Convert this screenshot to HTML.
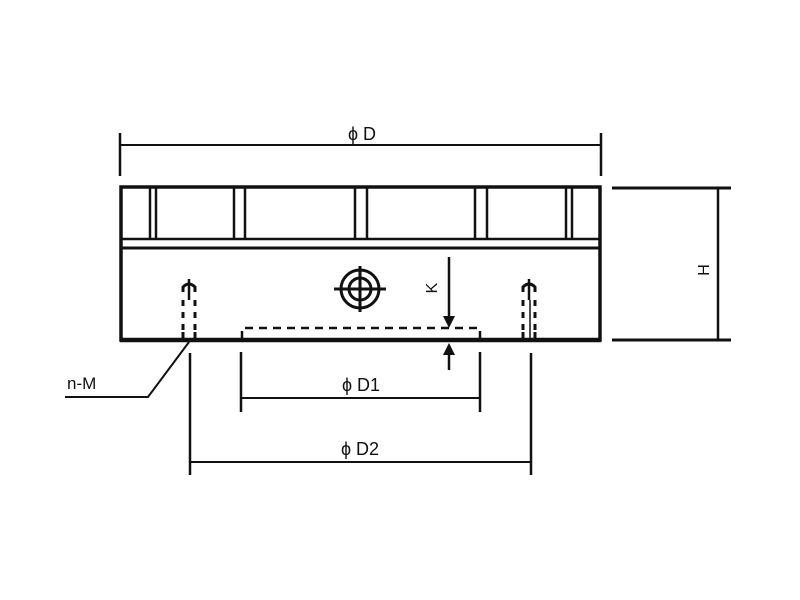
<!DOCTYPE html>
<html><head><meta charset="utf-8"><style>
html,body{margin:0;padding:0;background:#fff;}
svg{display:block;}
text{font-family:"Liberation Sans",sans-serif;fill:#111;}
</style></head><body>
<svg width="800" height="600" viewBox="0 0 800 600" xmlns="http://www.w3.org/2000/svg">
<g stroke="#111" fill="none" stroke-linecap="butt">
<line x1="120" y1="133" x2="120" y2="176" stroke-width="2.5"/>
<line x1="601" y1="133" x2="601" y2="176" stroke-width="2.5"/>
<line x1="120" y1="145" x2="601" y2="145" stroke-width="2"/>
<rect x="121" y="187" width="479" height="153" stroke-width="3.5"/>
<line x1="121" y1="239" x2="600" y2="239" stroke-width="2.5"/>
<line x1="121" y1="248" x2="600" y2="248" stroke-width="3"/>
<g stroke-width="2.5">
<line x1="150" y1="188" x2="150" y2="239"/><line x1="156" y1="188" x2="156" y2="239"/>
<line x1="234" y1="188" x2="234" y2="239"/><line x1="245" y1="188" x2="245" y2="239"/>
<line x1="355" y1="188" x2="355" y2="239"/><line x1="367" y1="188" x2="367" y2="239"/>
<line x1="475" y1="188" x2="475" y2="239"/><line x1="487" y1="188" x2="487" y2="239"/>
<line x1="566" y1="188" x2="566" y2="239"/><line x1="572" y1="188" x2="572" y2="239"/>
</g>
<line x1="120" y1="340" x2="601" y2="340" stroke-width="4.5"/>
<g stroke-width="3">
<path d="M183 292 L183 287 Q189 281 195 287 L195 292"/>
<line x1="183" y1="300" x2="183" y2="306"/><line x1="195" y1="300" x2="195" y2="306"/>
<line x1="183" y1="312" x2="183" y2="318"/><line x1="195" y1="312" x2="195" y2="318"/>
<line x1="183" y1="324" x2="183" y2="330"/><line x1="195" y1="324" x2="195" y2="330"/>
<line x1="183" y1="332" x2="183" y2="339"/><line x1="195" y1="332" x2="195" y2="339"/>
<line x1="189" y1="279" x2="189" y2="300" stroke-width="2.5"/>
<path d="M523 292 L523 287 Q529 281 535 287 L535 292"/>
<line x1="523" y1="300" x2="523" y2="306"/><line x1="535" y1="300" x2="535" y2="306"/>
<line x1="523" y1="312" x2="523" y2="318"/><line x1="535" y1="312" x2="535" y2="318"/>
<line x1="523" y1="324" x2="523" y2="330"/><line x1="535" y1="324" x2="535" y2="330"/>
<line x1="523" y1="332" x2="523" y2="339"/><line x1="535" y1="332" x2="535" y2="339"/>
<line x1="529" y1="279" x2="529" y2="300" stroke-width="2.5"/>
<line x1="530" y1="300" x2="530" y2="339" stroke-width="1.5"/>
</g>
<g stroke-width="3">
<circle cx="360" cy="289" r="19"/>
<circle cx="360" cy="289" r="11"/>
<line x1="334" y1="289" x2="386" y2="289"/>
<line x1="360" y1="266" x2="360" y2="312"/>
</g>
<path d="M242 339 L242 328 L480 328 L480 339" stroke-width="2.5" stroke-dasharray="8,6"/>
<line x1="449" y1="257" x2="449" y2="316" stroke-width="2.5"/>
<line x1="449" y1="355" x2="449" y2="370" stroke-width="2.5"/>
<line x1="241" y1="352" x2="241" y2="412" stroke-width="2.5"/>
<line x1="480" y1="352" x2="480" y2="412" stroke-width="2.5"/>
<line x1="241" y1="398" x2="480" y2="398" stroke-width="2"/>
<line x1="190" y1="353" x2="190" y2="475" stroke-width="2.5"/>
<line x1="531" y1="353" x2="531" y2="475" stroke-width="2.5"/>
<line x1="190" y1="462" x2="531" y2="462" stroke-width="2"/>
<polyline points="65,397 148,397 189,342" stroke-width="2"/>
<line x1="612" y1="188" x2="731" y2="188" stroke-width="3"/>
<line x1="612" y1="340" x2="731" y2="340" stroke-width="3"/>
<line x1="718" y1="188" x2="718" y2="340" stroke-width="2.5"/>
</g>
<g fill="#111">
<polygon points="443,316 455,316 449,328"/>
<polygon points="443,355 455,355 449,343"/>
</g>
<text x="362" y="140" font-size="18" text-anchor="middle">ϕ D</text>
<text x="361" y="391" font-size="18" text-anchor="middle">ϕ D1</text>
<text x="360" y="455" font-size="18" text-anchor="middle">ϕ D2</text>
<text x="67" y="389" font-size="17">n-M</text>
<text x="0" y="0" font-size="16" transform="translate(437,288) rotate(-90)" text-anchor="middle">K</text>
<text x="0" y="0" font-size="16" transform="translate(709,270) rotate(-90)" text-anchor="middle">H</text>
</svg>
</body></html>
